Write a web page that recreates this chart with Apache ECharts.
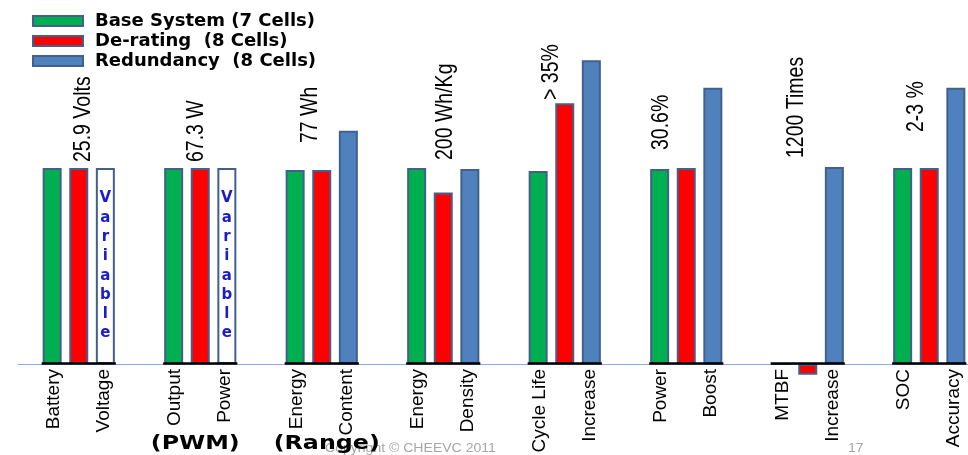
<!DOCTYPE html>
<html><head><meta charset="utf-8">
<script src="https://cdn.jsdelivr.net/npm/echarts@6/dist/echarts.min.js"></script>
<style>html,body{margin:0;padding:0;background:#fff}#c{width:968px;height:455px}</style>
</head><body><div id="c"></div>
<script>
// ---- data ----
const categories = ['Battery\nVoltage','Output\nPower','Energy\nContent','Energy\nDensity','Cycle Life\nIncrease','Power\nBoost','MTBF\nIncrease','SOC\nAccuracy'];
const categorySubtitles = ['', '(PWM)', '(Range)', '', '', '', '', ''];
const seriesNames = ['Base System (7 Cells)', 'De-rating  (8 Cells)', 'Redundancy  (8 Cells)'];
const baseSystem = [100, 100, 99, 100, 98.5, 99.5, 0, 100];
const deRating   = [100, 100, 99, 87.5, 133, 100, -5.5, 100];
const redundancy = [100, 100, 119, 99.5, 155, 141, 100.5, 141];
const redundancyNotes = ['Variable', 'Variable', '', '', '', '', '', ''];
const annotations = ['25.9 Volts', '67.3 W', '77 Wh', '200 Wh/Kg', '> 35%', '30.6%', '1200 Times', '2-3 %'];

// ---- layout / style (not data) ----
const annotLayout = [
  {dx: 5, rise: 202}, {dx: -4, rise: 202}, {dx: -11, rise: 221}, {dx: 2, rise: 204},
  {dx: -13, rise: 264}, {dx: -25, rise: 214}, {dx: -11, rise: 206}, {dx: -13, rise: 232}
];
const subLayout = [null, {dx: -5, y: 444}, {dx: 5, y: 444}, null, null, null, null, null];
const FONT = "'Liberation Sans',Arial,sans-serif";
const BORDER = '#41618C';
const BAR_W = 19;

const chart = echarts.init(document.getElementById('c'), null, {renderer: 'canvas'});

const option = {
  animation: false,
  backgroundColor: '#ffffff',
  legend: {
    data: seriesNames,
    orient: 'vertical',
    left: 27, top: 7,
    icon: 'rect',
    itemWidth: 50, itemHeight: 10, itemGap: 2,
    textStyle: {fontFamily: 'DejaVu Sans', fontWeight: 'bold', fontSize: 18, color: '#000', padding: [0, 0, 0, 7]}
  },
  grid: {left: 18, right: -22, top: 50.4, bottom: 91, containLabel: false, outerBoundsMode: 'none'},
  xAxis: {
    type: 'category',
    data: categories,
    axisLine: {lineStyle: {color: '#8FAADC', width: 1}},
    axisTick: {show: false},
    axisLabel: {interval: 0, rotate: 90, fontFamily: FONT, fontSize: 19, lineHeight: 50, color: '#000', margin: 5}
  },
  yAxis: {type: 'value', min: 0, max: 160, show: false, splitLine: {show: false}},
  series: [
    {name: seriesNames[0], type: 'bar', data: baseSystem, barWidth: BAR_W, barGap: '40%', clip: false,
     itemStyle: {color: '#00B050', borderColor: BORDER, borderWidth: 2}},
    {name: seriesNames[1], type: 'bar', data: deRating, barWidth: BAR_W, barGap: '40%', clip: false,
     itemStyle: {color: '#FF0000', borderColor: BORDER, borderWidth: 2}},
    {name: seriesNames[2], type: 'bar', barWidth: BAR_W, barGap: '40%', clip: false,
     itemStyle: {color: '#4F81BD', borderColor: BORDER, borderWidth: 2},
     data: redundancy.map((v, i) => redundancyNotes[i] ? {
       value: v,
       itemStyle: {color: '#ffffff'},
       label: {show: true, position: 'inside', formatter: redundancyNotes[i].split('').join('\n'),
               color: '#1C1CC8', fontFamily: 'DejaVu Sans', fontWeight: 'bold', fontSize: 15, lineHeight: 19.3}
     } : v)},
    {type: 'custom', z: 5, silent: true, clip: false,
     data: categories.map((c, i) => [i, 0]),
     encode: {x: 0, y: 1},
     renderItem: function (params, api) {
       const p = api.coord([api.value(0), api.value(1)]);
       const half = (3 * BAR_W + 2 * BAR_W * 0.4) / 2 + 1;
       return {type: 'line', shape: {x1: p[0] - half, y1: p[1] - 0.5, x2: p[0] + half, y2: p[1] - 0.5},
               style: {stroke: '#000', lineWidth: 2.5}};
     }}
  ]
};
chart.setOption(option);

const zeroY = chart.convertToPixel({yAxisIndex: 0}, 0);
const graphics = [];
graphics.push({type: 'text', x: 325, y: 449, scaleX: 1.17, z: 1,
  style: {text: 'Copyright \u00A9 CHEEVC 2011', fill: '#A6A6A6', fontSize: 12, fontFamily: FONT, verticalAlign: 'middle'}});
graphics.push({type: 'text', x: 848, y: 449, scaleX: 1.17, z: 1,
  style: {text: '17', fill: '#A6A6A6', fontSize: 12, fontFamily: FONT, verticalAlign: 'middle'}});
categories.forEach((c, i) => {
  const cx = chart.convertToPixel({xAxisIndex: 0}, i);
  const a = annotLayout[i];
  graphics.push({type: 'text', x: cx + a.dx, y: zeroY - a.rise, rotation: Math.PI / 2, scaleY: 1.2, z: 10,
    style: {text: annotations[i], fill: '#000', fontSize: 19.5, fontFamily: FONT, align: 'left', verticalAlign: 'middle'}});
  if (categorySubtitles[i]) {
    const s = subLayout[i];
    graphics.push({type: 'text', x: cx + s.dx, y: s.y, scaleX: 1.25, z: 10,
      style: {text: categorySubtitles[i], fill: '#000', fontSize: 19, fontWeight: 'bold', fontFamily: 'DejaVu Sans', align: 'center', verticalAlign: 'middle'}});
  }
});
chart.setOption({graphic: graphics});
</script>
</body></html>
